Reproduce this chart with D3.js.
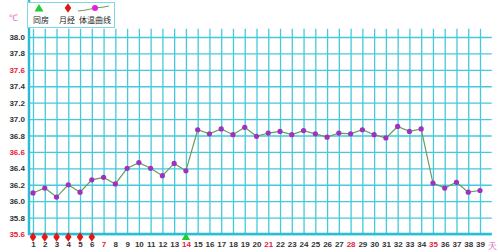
<!DOCTYPE html>
<html>
<head>
<meta charset="utf-8">
<script src="https://cdn.jsdelivr.net/npm/d3@7"></script>
<style>
  body { margin: 0; background: #fff; }
  svg { display: block; font-family: "Liberation Sans", Arial, sans-serif; }
</style>
</head>
<body>
<div id="chart"></div>
<script>
// days of the cycle
var days = d3.range(1, 40);
// basal body temperature per day
var temps = [36.10, 36.16, 36.05, 36.20, 36.11, 36.26, 36.29, 36.21, 36.40, 36.47,
             36.40, 36.31, 36.46, 36.37, 36.87, 36.82, 36.88, 36.81, 36.90, 36.79,
             36.83, 36.85, 36.81, 36.86, 36.82, 36.78, 36.83, 36.82, 36.87, 36.81,
             36.77, 36.91, 36.85, 36.88, 36.22, 36.16, 36.23, 36.11, 36.13];
var periodDays = [1, 2, 3, 4, 5, 6];   // 月经
var sexDays = [14];                    // 同房
var yTicks = [35.6, 35.8, 36.0, 36.2, 36.4, 36.6, 36.8, 37.0, 37.2, 37.4, 37.6, 37.8, 38.0];
var redYTicks = [35.6, 36.6, 37.6];
var redDays = [7, 14, 21, 28, 35];

var W = 498, H = 252;
var gridColor = "#45c9dc";

var svg = d3.select("#chart").append("svg")
    .attr("width", W)
    .attr("height", H);

var x = d3.scaleLinear().domain([1, 39]).range([33, 480]);
var y = d3.scaleLinear().domain([35.6, 38.0]).range([234, 37]);

// horizontal grid
svg.append("g")
    .attr("transform", "translate(29,0)")
    .call(d3.axisLeft(y).tickValues(yTicks).tickSize(-(x(40) - 29)).tickFormat(""))
    .call(g => g.select(".domain").remove())
    .selectAll("line")
    .attr("stroke", gridColor)
    .attr("stroke-width", 1.3);

// vertical grid
svg.append("g")
    .attr("transform", "translate(0,234)")
    .call(d3.axisBottom(x).tickValues(days).tickSize(-(234 - y(38.1))).tickFormat(""))
    .call(g => g.select(".domain").remove())
    .selectAll("line")
    .attr("stroke", gridColor)
    .attr("stroke-width", 1.3);

// axis lines
svg.append("line")
    .attr("x1", 29).attr("x2", 29).attr("y1", 0).attr("y2", 235)
    .attr("stroke", "#2bbdd3").attr("stroke-width", 2.5);
svg.append("line")
    .attr("x1", 28).attr("x2", x(40)).attr("y1", 234).attr("y2", 234)
    .attr("stroke", "#2bbdd3").attr("stroke-width", 2.5);

// y labels
var yAxis = svg.append("g")
    .attr("transform", "translate(25,0)")
    .call(d3.axisLeft(y).tickValues(yTicks).tickSize(0).tickPadding(0).tickFormat(d3.format(".1f")));
yAxis.select(".domain").remove();
yAxis.selectAll("text")
    .attr("font-size", 8)
    .attr("font-weight", "bold")
    .attr("font-family", "Liberation Sans, Arial, sans-serif")
    .attr("fill", d => redYTicks.includes(d) ? "#e8203c" : "#333");

// x labels
var xAxis = svg.append("g")
    .attr("transform", "translate(0,241)")
    .call(d3.axisBottom(x).tickValues(days).tickSize(0).tickPadding(0));
xAxis.select(".domain").remove();
xAxis.selectAll("text")
    .attr("font-size", 8)
    .attr("font-weight", "bold")
    .attr("font-family", "Liberation Sans, Arial, sans-serif")
    .attr("fill", d => redDays.includes(d) ? "#e8203c" : "#333");

svg.append("text")
    .attr("x", x(40) + 1).attr("y", 249)
    .attr("text-anchor", "middle")
    .attr("font-size", 9)
    .attr("fill", "#e070c0")
    .text("天");

svg.append("text")
    .attr("x", 13).attr("y", 21)
    .attr("text-anchor", "middle")
    .attr("font-size", 9)
    .attr("fill", "#e070c0")
    .text("℃");

// markers below the axis
var diamond = d3.symbol().type(d3.symbolDiamond).size(26);
svg.selectAll(".period")
    .data(periodDays)
    .enter()
    .append("path")
    .attr("class", "period")
    .attr("d", diamond)
    .attr("transform", d => "translate(" + x(d) + ",237) scale(1.2,1)")
    .attr("fill", "#e01818");

var tri = d3.symbol().type(d3.symbolTriangle).size(30);
svg.selectAll(".sex")
    .data(sexDays)
    .enter()
    .append("path")
    .attr("class", "sex")
    .attr("d", tri)
    .attr("transform", d => "translate(" + x(d) + ",237.5)")
    .attr("fill", "#22cc33");

// temperature line
var line = d3.line()
    .x((d, i) => x(days[i]))
    .y(d => y(d));
svg.append("path")
    .datum(temps)
    .attr("d", line)
    .attr("fill", "none")
    .attr("stroke", "#6c9a5c")
    .attr("stroke-width", 1.2);

svg.selectAll(".pt")
    .data(temps)
    .enter()
    .append("circle")
    .attr("class", "pt")
    .attr("cx", (d, i) => x(days[i]))
    .attr("cy", d => y(d))
    .attr("r", 2.6)
    .attr("fill", "#a030c0");

// legend
var lg = svg.append("g");
lg.append("rect")
    .attr("x", 27.5).attr("y", 2.5)
    .attr("width", 87).attr("height", 25)
    .attr("fill", "#fff")
    .attr("stroke", "#7fd8e4")
    .attr("stroke-width", 1);
lg.append("path")
    .attr("d", d3.symbol().type(d3.symbolTriangle).size(34))
    .attr("transform", "translate(39,9)")
    .attr("fill", "#22cc33");
lg.append("path")
    .attr("d", d3.symbol().type(d3.symbolDiamond).size(26))
    .attr("transform", "translate(68,8) scale(1.2,1)")
    .attr("fill", "#e01818");
lg.append("path")
    .attr("d", "M78,11 L86,10 L95,8 L104,7 L109,6")
    .attr("fill", "none")
    .attr("stroke", "#6c9a5c")
    .attr("stroke-width", 1);
lg.append("circle")
    .attr("cx", 95).attr("cy", 8).attr("r", 3)
    .attr("fill", "#e020e0");
var legText = [["同房", 41], ["月经", 67], ["体温曲线", 95]];
lg.selectAll(".lt")
    .data(legText)
    .enter()
    .append("text")
    .attr("x", d => d[1]).attr("y", 23)
    .attr("text-anchor", "middle")
    .style("font-size", "8px")
    .style("font-family", "'Noto Sans CJK SC', sans-serif")
    .attr("fill", "#222")
    .text(d => d[0]);
</script>
</body>
</html>
